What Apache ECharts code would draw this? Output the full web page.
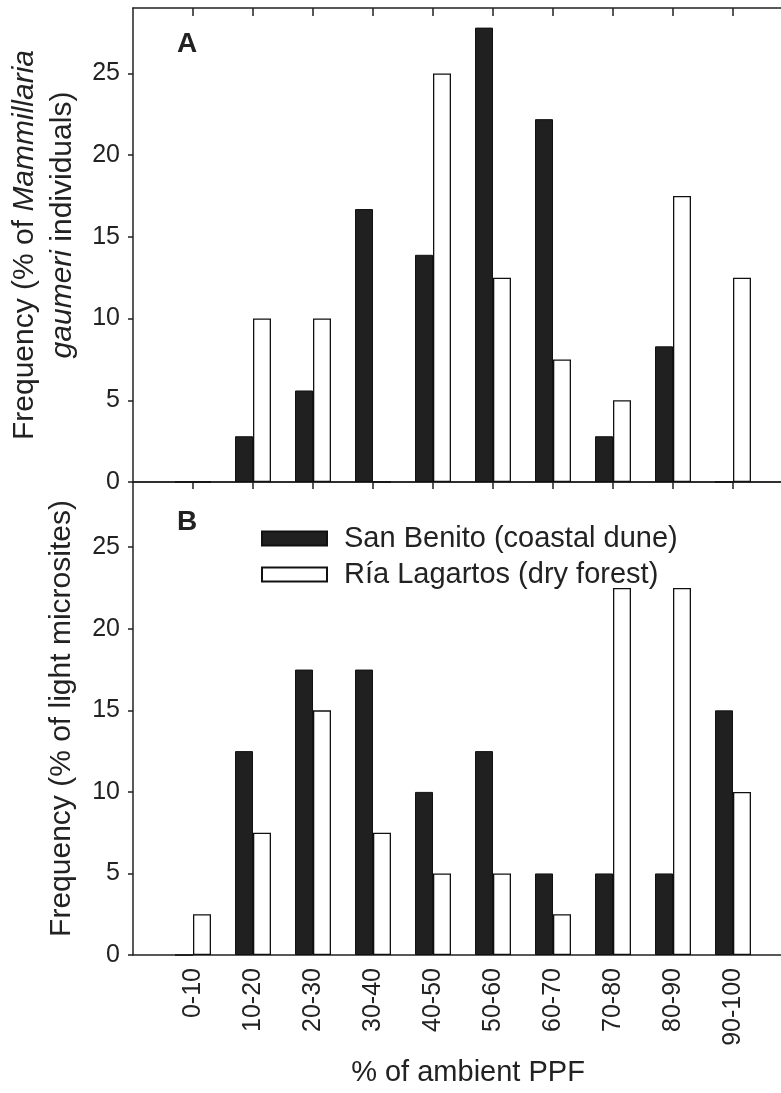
<!DOCTYPE html>
<html>
<head>
<meta charset="utf-8">
<script src="https://cdn.jsdelivr.net/npm/echarts@6/dist/echarts.min.js"></script>
<style>
html,body{margin:0;padding:0;background:#fff;}
#chart{width:781px;height:1093px;}
</style>
</head>
<body>
<div id="chart"></div>
<script>
const categories = ['0-10','10-20','20-30','30-40','40-50','50-60','60-70','70-80','80-90','90-100'];
const yTickValues = [0, 5, 10, 15, 20, 25];
const seriesNames = ['San Benito (coastal dune)', 'Ría Lagartos (dry forest)'];
// Panel A: % of Mammillaria gaumeri individuals
const sanBenitoA   = [0, 2.8, 5.6, 16.7, 13.9, 27.8, 22.2, 2.8, 8.3, 0];
const riaLagartosA = [0, 10, 10, 0, 25, 12.5, 7.5, 5, 17.5, 12.5];
// Panel B: % of light microsites
const sanBenitoB   = [0, 12.5, 17.5, 17.5, 10, 12.5, 5, 5, 5, 15];
const riaLagartosB = [2.5, 7.5, 15, 7.5, 5, 5, 2.5, 22.5, 22.5, 10];

const FONT = 'Liberation Sans, Arial, sans-serif';
const INK = '#222';
const catIdx = categories.map((c, i) => i);
const toData = vals => vals.map((v, i) => [i, v]);

const xBase = {
  type: 'value', min: -1, max: 9.8,
  splitLine: {show: false},
  axisLine: {show: true, onZero: false, lineStyle: {color: INK, width: 1.5}},
};
const yBase = {
  type: 'value', min: 0, max: 29, interval: 5,
  splitLine: {show: false},
  axisLine: {show: true, onZero: false, lineStyle: {color: INK, width: 1.5}},
  axisTick: {show: true, inside: false, length: 5, lineStyle: {color: INK, width: 1.5}, customValues: yTickValues},
  axisLabel: {customValues: yTickValues, fontSize: 25, fontFamily: FONT, color: INK, margin: 13},
  nameLocation: 'middle', nameRotate: 90, nameGap: 56
};

const blackStyle = {color: '#202020', borderColor: '#111', borderWidth: 1};
const whiteStyle = {color: '#ffffff', borderColor: '#111', borderWidth: 1.3};

function bar(name, vals, xi, yi, style) {
  return {
    name: name, type: 'bar', xAxisIndex: xi, yAxisIndex: yi,
    data: toData(vals), barWidth: 18, barGap: '0%',
    itemStyle: style, emphasis: {disabled: true}, animation: false
  };
}

const option = {
  animation: false,
  backgroundColor: '#fff',
  textStyle: {fontFamily: FONT, color: INK},
  grid: [
    {left: 133, right: 0, top: 8, height: 474, containLabel: false, outerBoundsMode: 'none'},
    {left: 133, right: 0, top: 482, height: 473, containLabel: false, outerBoundsMode: 'none'}
  ],
  xAxis: [
    Object.assign({}, xBase, {gridIndex: 0, position: 'bottom', axisTick: {show: false}, axisLabel: {show: false}}),
    Object.assign({}, xBase, {gridIndex: 0, position: 'top', axisTick: {show: true, inside: true, length: 8, customValues: catIdx, lineStyle: {color: INK, width: 1.5}}, axisLabel: {show: false}}),
    Object.assign({}, xBase, {gridIndex: 1, position: 'bottom', axisTick: {show: false},
      axisLabel: {show: true, customValues: catIdx, rotate: 90, fontSize: 25, fontFamily: FONT, color: INK, margin: 13,
        formatter: v => categories[Math.round(v)] || ''},
      name: '% of ambient PPF', nameLocation: 'middle', nameGap: 103,
      nameTextStyle: {fontSize: 29, fontFamily: FONT, color: INK, padding: [0, 0, 0, 22]}}),
    Object.assign({}, xBase, {gridIndex: 1, position: 'top', axisTick: {show: true, inside: true, length: 7, customValues: catIdx, lineStyle: {color: INK, width: 1.5}}, axisLabel: {show: false}})
  ],
  yAxis: [
    Object.assign({}, yBase, {gridIndex: 0, nameGap: 51,
      name: '{n|Frequency (% of }{i|Mammillaria}\n{i2|gaumeri}{n| individuals)}',
      nameTextStyle: {
        lineHeight: 38, fontSize: 30, fontFamily: FONT, color: INK,
        rich: {
          n: {fontSize: 30, fontFamily: FONT, color: INK, lineHeight: 38},
          i: {fontSize: 30, fontFamily: FONT, color: INK, fontStyle: 'italic', lineHeight: 38},
          i2: {fontSize: 30, fontFamily: FONT, color: INK, fontStyle: 'italic', lineHeight: 38, padding: [0, 0, 0, 40]}
        }
      }}),
    Object.assign({}, yBase, {gridIndex: 1,
      name: 'Frequency (% of light microsites)',
      nameTextStyle: {fontSize: 30, fontFamily: FONT, color: INK}})
  ],
  legend: {
    data: seriesNames, orient: 'vertical', left: 256, top: 519,
    itemWidth: 65, itemHeight: 14, itemGap: 7, icon: 'rect',
    selectedMode: false,
    textStyle: {fontSize: 29, fontFamily: FONT, color: INK, padding: [0, 0, 0, 12]}
  },
  graphic: [
    {type: 'text', left: 177, top: 30, style: {text: 'A', font: 'bold 28px Liberation Sans, Arial, sans-serif', fill: INK}},
    {type: 'text', left: 177, top: 508, style: {text: 'B', font: 'bold 28px Liberation Sans, Arial, sans-serif', fill: INK}}
  ],
  series: [
    bar(seriesNames[0], sanBenitoA, 0, 0, blackStyle),
    bar(seriesNames[1], riaLagartosA, 0, 0, whiteStyle),
    bar(seriesNames[0], sanBenitoB, 2, 1, blackStyle),
    bar(seriesNames[1], riaLagartosB, 2, 1, whiteStyle)
  ]
};

const chart = echarts.init(document.getElementById('chart'), null, {renderer: 'canvas'});
chart.setOption(option);
</script>
</body>
</html>
